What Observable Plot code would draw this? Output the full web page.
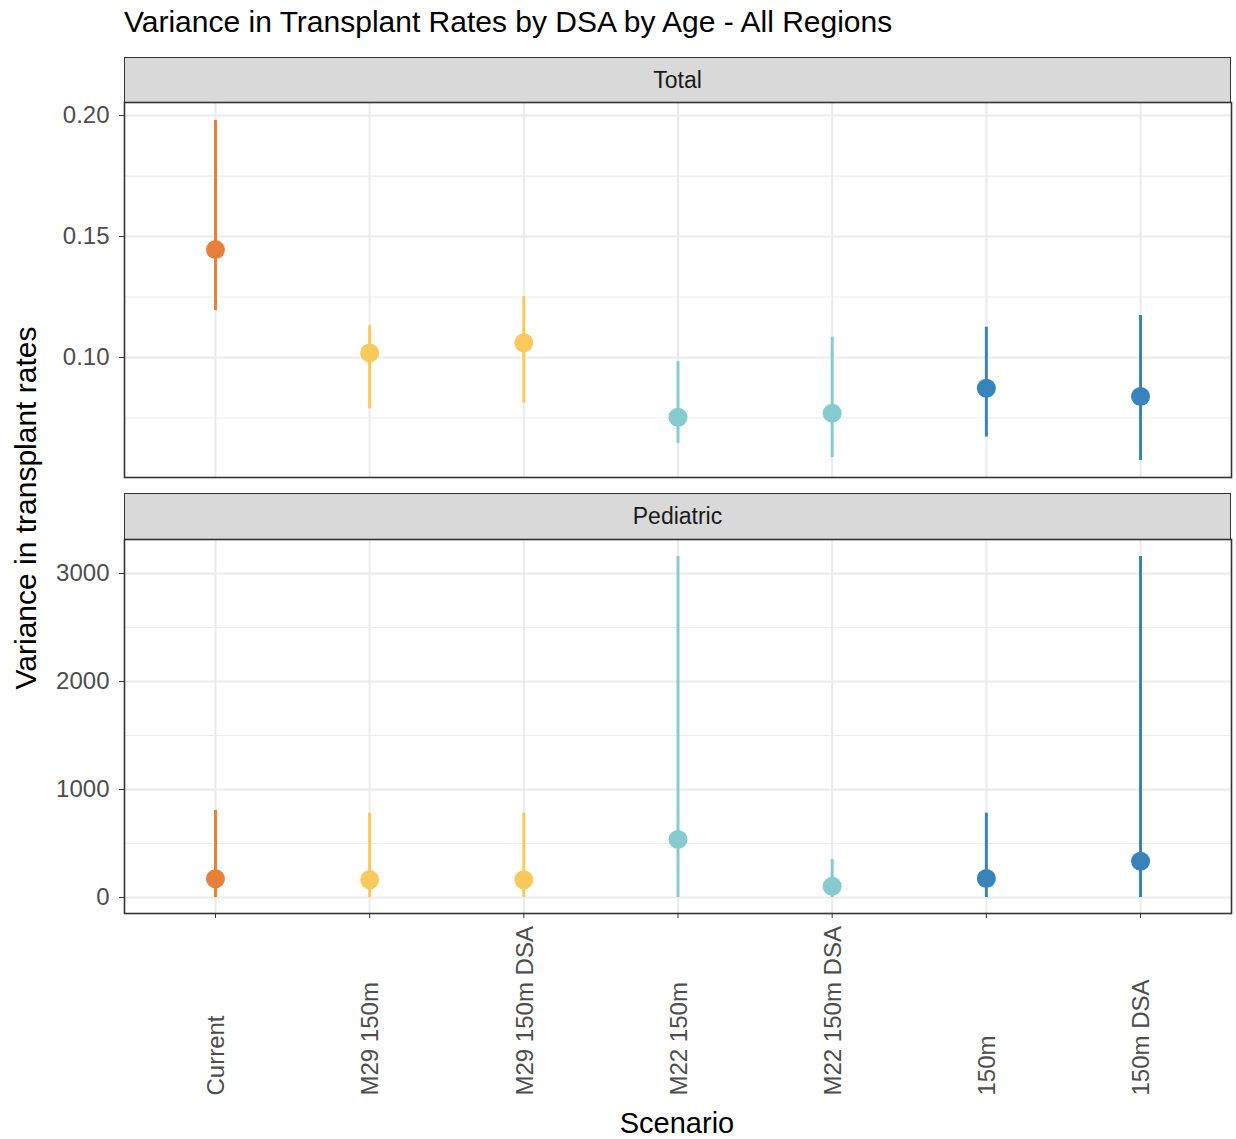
<!DOCTYPE html>
<html>
<head>
<meta charset="utf-8">
<script src="https://cdn.jsdelivr.net/npm/d3@7"></script>
<script src="https://cdn.jsdelivr.net/npm/@observablehq/plot@0.6"></script>
<style>
  html, body { margin: 0; padding: 0; background: #fff; }
  #root { position: relative; width: 1236px; height: 1139px; background: #fff;
          font-family: "Liberation Sans", Arial, Helvetica, sans-serif; overflow: hidden; }
  .abs { position: absolute; }
  .strip { position: absolute; box-sizing: border-box; background: #D9D9D9;
           border: 1.5px solid #333; display: flex; align-items: center; justify-content: center;
           font-size: 23px; color: #1A1A1A; }
  #root svg { position: absolute; left: 0; overflow: visible; }
  #root svg [aria-label$="tick label"] text { fill: #4D4D4D; }
</style>
</head>
<body>
<div id="root"></div>
<script>
// ---- data ----
const scenarios = ["Current", "M29 150m", "M29 150m DSA", "M22 150m", "M22 150m DSA", "150m", "150m DSA"];
const scenarioColors = ["#E8803A", "#F9C95B", "#F9C95B", "#86CBCF", "#86CBCF", "#3884BA", "#3884BA"];

// Total panel
const totalMid = [0.1446, 0.1019, 0.1061, 0.0753, 0.0770, 0.0873, 0.0839];
const totalLo  = [0.1194, 0.0788, 0.0811, 0.0645, 0.0586, 0.0671, 0.0574];
const totalHi  = [0.1980, 0.1132, 0.1252, 0.0983, 0.1084, 0.1125, 0.1174];

// Pediatric panel
const pedMid = [173, 164, 164, 537, 105, 176, 336];
const pedLo  = [0, 0, 0, 0, 0, 0, 0];
const pedHi  = [806, 781, 781, 3157, 352, 781, 3157];

const totalTicks = [0.10, 0.15, 0.20];
const totalMinor = [0.075, 0.125, 0.175];
const pedTicks = [0, 1000, 2000, 3000];
const pedMinor = [500, 1500, 2500];

const panelTitles = ["Total", "Pediatric"];
const chartTitle = "Variance in Transplant Rates by DSA by Age - All Regions";
const xTitle = "Scenario";
const yTitle = "Variance in transplant rates";

// ---- build tables ----
const totalData = scenarios.map((s, i) => ({scenario: s, mid: totalMid[i], lo: totalLo[i], hi: totalHi[i]}));
const pedData = scenarios.map((s, i) => ({scenario: s, mid: pedMid[i], lo: pedLo[i], hi: pedHi[i]}));

const root = document.getElementById("root");
const GRID = "#EBEBEB";

function panel(data, yDomain, ticks, minor, fmt, showX, height, marginBottom) {
  const marks = [
    Plot.ruleY(minor, {stroke: GRID, strokeWidth: 1.2}),
    Plot.ruleY(ticks, {stroke: GRID, strokeWidth: 2}),
    Plot.ruleX(scenarios, {stroke: GRID, strokeWidth: 2}),
    Plot.ruleX(data, {x: "scenario", y1: "lo", y2: "hi", stroke: "scenario", strokeWidth: 3}),
    Plot.dot(data, {x: "scenario", y: "mid", r: 9.5, fill: "scenario", stroke: "none"}),
    Plot.axisY(ticks, {tickSize: 5, tickPadding: 10, tickFormat: fmt, stroke: "#333", fontSize: 24, label: null}),
    Plot.frame({stroke: "#333", strokeWidth: 1.6})
  ];
  if (showX) {
    marks.push(Plot.axisX({tickSize: 5, tickFormat: () => "", stroke: "#333", label: null}));
    marks.push(Plot.text(scenarios, {
      x: d => d, frameAnchor: "bottom", dy: 182, dx: 1, rotate: -90,
      textAnchor: "start", lineAnchor: "middle", fontSize: 24, fill: "#4D4D4D"
    }));
  }
  return Plot.plot({
    width: 1236,
    height,
    marginLeft: 124,
    marginRight: 5,
    marginTop: 2,
    marginBottom,
    style: {fontFamily: '"Liberation Sans", Arial, sans-serif', background: "transparent"},
    x: {type: "point", domain: scenarios, padding: 0.59, round: false, axis: null},
    y: {domain: yDomain, axis: null},
    color: {domain: scenarios, range: scenarioColors},
    marks
  });
}

// Title
const t = document.createElement("div");
t.className = "abs";
t.textContent = chartTitle;
Object.assign(t.style, {left: "124px", top: "7px", fontSize: "30px", lineHeight: "30px", color: "#000", whiteSpace: "nowrap"});
root.appendChild(t);

// Strip 1
const s1 = document.createElement("div");
s1.className = "strip";
s1.textContent = panelTitles[0];
Object.assign(s1.style, {left: "124px", top: "57px", width: "1107px", height: "46px"});
root.appendChild(s1);

// Panel 1
const p1 = panel(totalData, [0.0504, 0.2054], totalTicks, totalMinor, d3.format(".2f"), false, 379, 2);
p1.style.top = "100px";
root.appendChild(p1);

// Strip 2
const s2 = document.createElement("div");
s2.className = "strip";
s2.textContent = panelTitles[1];
Object.assign(s2.style, {left: "124px", top: "493px", width: "1107px", height: "47px"});
root.appendChild(s2);

// Panel 2
const p2 = panel(pedData, [-148, 3315], pedTicks, pedMinor, d3.format("d"), true, 568, 192);
p2.style.top = "537px";
root.appendChild(p2);

// X title
const xt = document.createElement("div");
xt.className = "abs";
xt.textContent = xTitle;
Object.assign(xt.style, {left: "677px", top: "1109px", transform: "translateX(-50%)", fontSize: "29px", lineHeight: "29px", color: "#000", whiteSpace: "nowrap"});
root.appendChild(xt);

// Y title
const yt = document.createElement("div");
yt.className = "abs";
yt.textContent = yTitle;
Object.assign(yt.style, {left: "26px", top: "508px", transform: "translate(-50%,-50%) rotate(-90deg)", fontSize: "30px", lineHeight: "30px", color: "#000", whiteSpace: "nowrap"});
root.appendChild(yt);
</script>
</body>
</html>
